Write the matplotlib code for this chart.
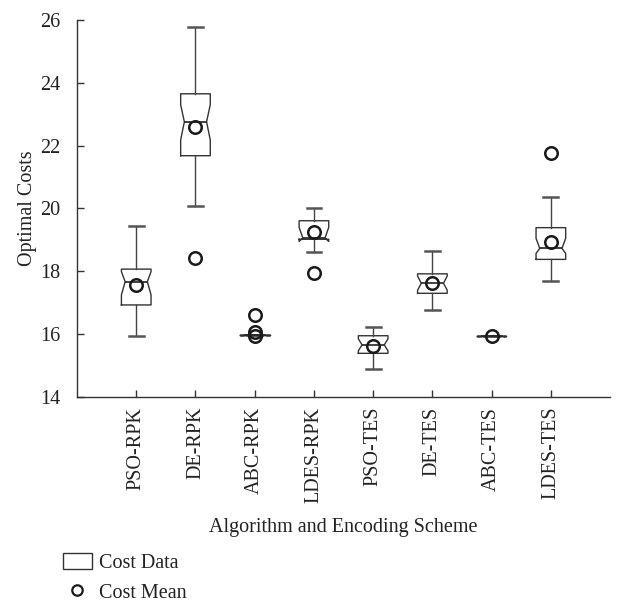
import matplotlib
matplotlib.use("Agg")
import matplotlib.pyplot as plt
from matplotlib.patches import Patch
from matplotlib.lines import Line2D

plt.rcParams['font.family'] = ['Liberation Serif', 'DejaVu Serif']

# Box statistics
labels = ['PSO-RPK', 'DE-RPK', 'ABC-RPK', 'LDES-RPK',
          'PSO-TES', 'DE-TES', 'ABC-TES', 'LDES-TES']
q1 = [16.93, 21.68, 15.96, 19.02, 15.39, 17.30, 15.95, 18.38]
med = [17.67, 22.76, 15.96, 19.06, 15.66, 17.62, 15.95, 18.73]
q3 = [18.07, 23.65, 15.96, 19.61, 15.95, 17.92, 15.95, 19.39]
whislo = [15.95, 20.09, 15.96, 18.61, 14.90, 16.77, 15.95, 17.70]
whishi = [19.44, 25.79, 15.96, 20.02, 16.24, 18.66, 15.95, 20.36]
cilo = [17.25, 22.18, 15.96, 18.95, 15.47, 17.40, 15.95, 18.57]
cihi = [17.99, 23.30, 15.96, 19.40, 15.85, 17.85, 15.95, 19.05]
means = [17.56, 22.58, 15.93, 19.26, 15.63, 17.64, 15.94, 18.94]
outliers = [[], [18.43], [16.60, 16.08], [17.96], [], [], [], [21.76]]

stats = []
for i in range(len(labels)):
    stats.append(dict(label=labels[i], q1=q1[i], med=med[i], q3=q3[i],
                      whislo=whislo[i], whishi=whishi[i], cilo=cilo[i],
                      cihi=cihi[i], mean=means[i], fliers=outliers[i]))

fig = plt.figure(figsize=(6.17, 6.05), dpi=100)
ax = fig.add_axes([0.1248, 0.3438, 0.864, 0.6232])

circle = dict(marker='o', markerfacecolor='none', markeredgecolor='#1a1a1a',
              markersize=9, markeredgewidth=1.8, linestyle='none')

positions = list(range(1, 9))
width = 0.5
res = ax.bxp(stats, positions=positions, widths=width, shownotches=True,
             showmeans=True, showfliers=True,
             boxprops=dict(color='#333333', linewidth=1.0),
             medianprops=dict(color='#222222', linewidth=1.2),
             whiskerprops=dict(color='#444444', linewidth=1.0),
             capprops=dict(color='#555555', linewidth=1.8),
             meanprops=circle, flierprops=circle)

# shallower notches, like the reference
inset = 0.375 * width
for pos, box, mline in zip(positions, res['boxes'], res['medians']):
    xs = list(box.get_xdata())
    xs[3] = pos + inset
    xs[8] = pos - inset
    box.set_xdata(xs)
    mline.set_xdata([pos - inset, pos + inset])

ax.set_xlim(0, 9)
ax.set_ylim(14, 26)
ax.set_yticks([14, 16, 18, 20, 22, 24, 26])
ax.set_xticks(positions)
ax.set_xticklabels(labels, rotation=90)
ax.tick_params(direction='in', length=5, width=1, color='#333333',
               labelsize=14.5, labelcolor='#222222')
ax.tick_params(axis='x', pad=7)
ax.tick_params(axis='y', pad=12)
for s in ['top', 'right']:
    ax.spines[s].set_visible(False)
for s in ['left', 'bottom']:
    ax.spines[s].set_color('#333333')
    ax.spines[s].set_linewidth(1.0)

ax.set_ylabel('Optimal Costs', fontsize=14.5, color='#222222', labelpad=2)
ax.set_xlabel('Algorithm and Encoding Scheme', fontsize=14.5,
              color='#222222', labelpad=11)

handles = [Patch(facecolor='white', edgecolor='#333333', linewidth=1.0),
           Line2D([], [], **{**circle, 'markersize': 7.5, 'markeredgewidth': 1.6})]
fig.legend(handles, ['Cost Data', 'Cost Mean'], loc='lower left',
           bbox_to_anchor=(0.095, -0.003), frameon=False, fontsize=14.5,
           handlelength=1.45, handleheight=0.8, labelspacing=0.5,
           handletextpad=0.35, borderpad=0.2, borderaxespad=0.0,
           labelcolor='#222222')

fig.savefig('out.png', dpi=100)
